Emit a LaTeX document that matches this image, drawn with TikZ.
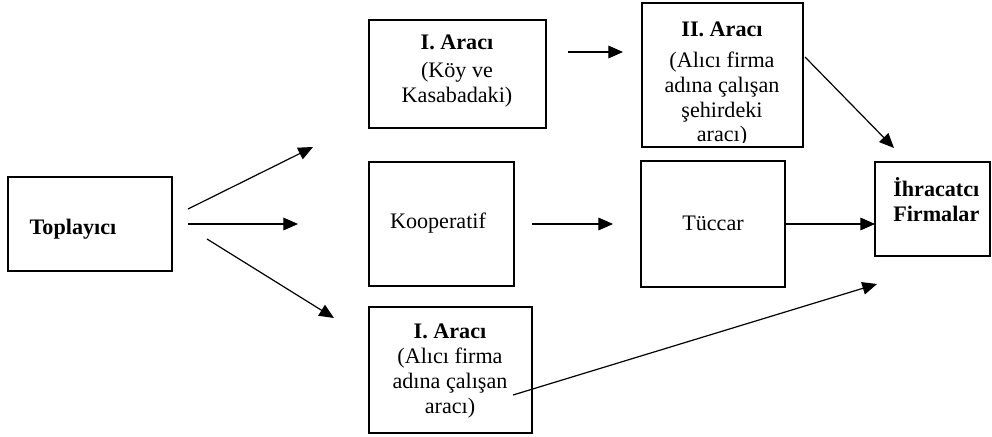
\documentclass[tikz,border=0pt]{standalone}
\usepackage{fontspec}
\setmainfont{Liberation Serif}
\usetikzlibrary{arrows.meta,fit}
\begin{document}
\begin{tikzpicture}[x=0.75pt,y=-0.75pt,
  box/.style={draw,line width=1.1pt,inner sep=0pt},
  lbl/.style={font=\fontsize{16.6}{18.7}\selectfont,align=center,inner sep=0pt},
  blbl/.style={lbl,font=\fontsize{16.6}{18.7}\selectfont\bfseries},
  arr/.style={line width=0.9pt,-{Triangle[length=11pt,width=9.5pt]}}]
\useasboundingbox (0,0) rectangle (992,436);
% boxes
\node[box,fit={(8,177)(172,271)}] (topl) {};
\node[box,fit={(369,20)(546,128)}] (ar1) {};
\node[box,fit={(642,3)(803,147)}] (ar2) {};
\node[box,fit={(369,162)(514,286)}] (koop) {};
\node[box,fit={(641,161)(785,287)}] (tucc) {};
\node[box,fit={(875,162)(990,256)}] (ihr) {};
\node[box,fit={(369,307)(532,433)}] (ar3) {};
% texts
\node[blbl] (toplT) at (73,229) {Toplayıcı};
\node[lbl] (ar1T) at (457,71) {\textbf{I. Aracı}\\[3pt](Köy ve\\Kasabadaki)};
\begin{scope}
\clip (642,3) rectangle (803,142);
\node[lbl,anchor=north] (ar2T) at (722,22) {\textbf{II. Aracı}\\[4pt](Alıcı firma\\adına çalışan\\şehirdeki\\aracı)};
\end{scope}
\node[lbl] (koopT) at (438,223) {Kooperatif};
\node[lbl] (tuccT) at (713,223) {Tüccar};
\node[blbl,align=left,anchor=north west] (ihrT) at (893,177) {İhracatcı\\Firmalar};
\node[lbl] (ar3T) at (450,371) {\textbf{I. Aracı}\\(Alıcı firma\\adına çalışan\\aracı)};
% connector end points
\coordinate (a1s) at (188,209); \coordinate (a1e) at (313,147);
\coordinate (a2s) at (188,224); \coordinate (a2e) at (298,224);
\coordinate (a3s) at (207,239); \coordinate (a3e) at (334,318);
\coordinate (a4s) at (568,52);  \coordinate (a4e) at (623,52);
\coordinate (a5s) at (805,57);  \coordinate (a5e) at (894,148);
\coordinate (a6s) at (532,224); \coordinate (a6e) at (613,224);
\coordinate (a7s) at (785,224); \coordinate (a7e) at (875,224);
\coordinate (a8s) at (513,395); \coordinate (a8e) at (877,284);
\foreach \i in {1,...,8} {\draw[arr] (a\i s) -- (a\i e);}
\end{tikzpicture}
\end{document}
